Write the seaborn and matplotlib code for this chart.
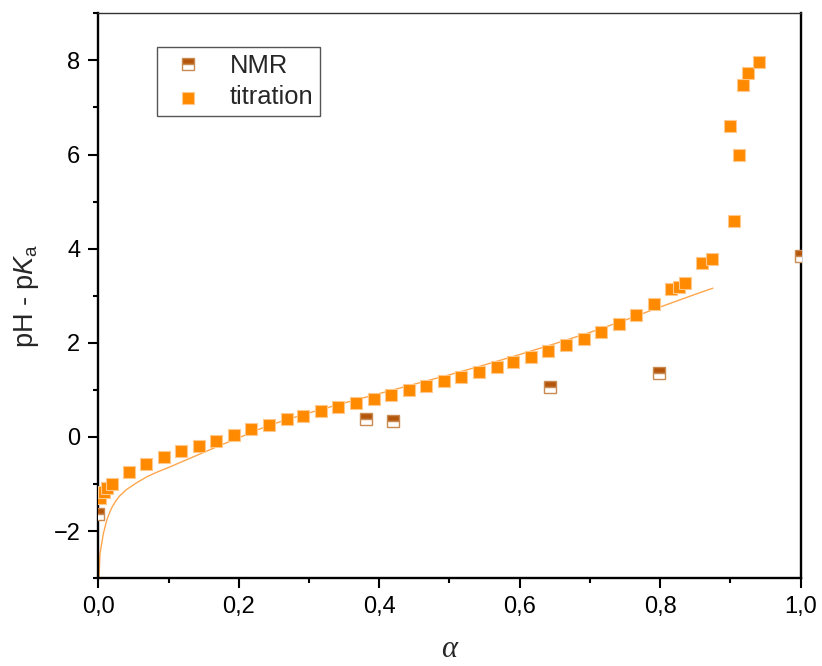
import matplotlib
matplotlib.use("Agg")
import matplotlib.pyplot as plt
from matplotlib.ticker import MultipleLocator, FixedLocator
import seaborn as sns

# Titration points: degree of deprotonation and pH - pKa
alpha_titration = [0.002, 0.008, 0.013, 0.019, 0.044, 0.068, 0.093, 0.118, 0.143,
                   0.168, 0.193, 0.218, 0.243, 0.268, 0.292, 0.317, 0.341, 0.367,
                   0.392, 0.417, 0.442, 0.467, 0.492, 0.517, 0.542, 0.567, 0.591,
                   0.616, 0.641, 0.666, 0.691, 0.716, 0.741, 0.766, 0.791, 0.815,
                   0.827, 0.835, 0.860, 0.874, 0.899, 0.905, 0.912, 0.918, 0.925,
                   0.941]
ph_titration = [-1.30, -1.17, -1.08, -1.00, -0.74, -0.57, -0.43, -0.30, -0.19,
                -0.08, 0.04, 0.16, 0.26, 0.37, 0.45, 0.55, 0.64, 0.72,
                0.81, 0.90, 0.99, 1.09, 1.18, 1.28, 1.38, 1.48, 1.59,
                1.70, 1.82, 1.95, 2.09, 2.23, 2.40, 2.59, 2.82, 3.14,
                3.19, 3.26, 3.70, 3.78, 6.61, 4.59, 5.98, 7.48, 7.74,
                7.97]

# NMR points
alpha_nmr = [0.0, 0.381, 0.420, 0.643, 0.798, 1.0]
ph_nmr = [-1.64, 0.37, 0.34, 1.06, 1.36, 3.84]

# Model curve
alpha_model = [0.0, 0.0024, 0.0071, 0.012, 0.016, 0.02, 0.025, 0.03, 0.04, 0.055,
               0.07, 0.085, 0.10, 0.125, 0.15, 0.175, 0.20, 0.225, 0.25, 0.30,
               0.35, 0.40, 0.45, 0.50, 0.55, 0.60, 0.65, 0.70, 0.75, 0.80,
               0.85, 0.875]
ph_model = [-3.3, -2.48, -2.06, -1.77, -1.61, -1.48, -1.36, -1.26, -1.12, -0.97,
            -0.84, -0.74, -0.65, -0.49, -0.33, -0.17, -0.02, 0.14, 0.28, 0.51,
            0.72, 0.92, 1.12, 1.32, 1.53, 1.75, 1.98, 2.22, 2.48, 2.76,
            3.03, 3.16]

x_ticks = [0.0, 0.2, 0.4, 0.6, 0.8, 1.0]
x_tick_labels = ["0,0", "0,2", "0,4", "0,6", "0,8", "1,0"]
y_ticks = [-2, 0, 2, 4, 6, 8]

sns.set_style("ticks")
plt.rcParams["font.family"] = ["Liberation Sans", "DejaVu Sans"]
plt.rcParams["mathtext.fontset"] = "custom"
plt.rcParams["mathtext.rm"] = "Liberation Sans"
plt.rcParams["mathtext.it"] = "Liberation Sans:italic"

fig, ax = plt.subplots(figsize=(8.22, 6.66), dpi=100)
fig.subplots_adjust(left=0.1196, right=0.974, bottom=0.132, top=0.98)

sns.lineplot(x=alpha_model, y=ph_model, ax=ax, color="#ffa64d", linewidth=1.0,
             sort=False, zorder=2)

sns.scatterplot(x=alpha_titration, y=ph_titration, ax=ax, marker="s", s=82,
                color="#ff8a00", edgecolor="#ffc88c", linewidth=0.8,
                zorder=3, label="titration")

nmr_line, = ax.plot(alpha_nmr, ph_nmr, linestyle="none", marker="s",
                    markersize=8.4, fillstyle="top",
                    markerfacecolor="#b3560b", markerfacecoloralt="white",
                    markeredgecolor="#c98a52", markeredgewidth=1.0,
                    zorder=4, label="NMR")

ax.set_xlim(0, 1.0)
ax.set_ylim(-3, 9)
ax.xaxis.set_major_locator(FixedLocator(x_ticks))
ax.set_xticklabels(x_tick_labels)
ax.xaxis.set_minor_locator(MultipleLocator(0.1))
ax.yaxis.set_major_locator(FixedLocator(y_ticks))
ax.yaxis.set_minor_locator(MultipleLocator(1))

ax.tick_params(axis="both", which="major", direction="out", length=7,
               width=1.5, labelsize=17, color="black", labelcolor="black",
               pad=6)
ax.tick_params(axis="both", which="minor", direction="out", length=3.6,
               width=1.5, color="black")
ax.tick_params(top=False, right=False, which="both")

for side in ["left", "bottom", "right"]:
    ax.spines[side].set_linewidth(1.7)
    ax.spines[side].set_color("black")
ax.spines["top"].set_linewidth(1.0)
ax.spines["top"].set_color("#333333")

ax.set_xlabel("α", fontsize=22, fontstyle="italic",
              family=["Liberation Serif", "DejaVu Serif"], labelpad=12)
ax.set_ylabel(r"pH - p$\mathit{K}_\mathregular{a}$", fontsize=19.5, labelpad=9)

handles, labels = ax.get_legend_handles_labels()
order = [labels.index("NMR"), labels.index("titration")]
leg = ax.legend([handles[i] for i in order], [labels[i] for i in order],
                loc="upper left", bbox_to_anchor=(0.0836, 0.94),
                borderaxespad=0, fontsize=18.4, frameon=True, fancybox=False,
                edgecolor="#555555", framealpha=1, borderpad=0.25,
                handlelength=1.9, handletextpad=0.7, labelspacing=0.3)
leg.get_frame().set_linewidth(1.0)

fig.savefig("out.png", dpi=100)
